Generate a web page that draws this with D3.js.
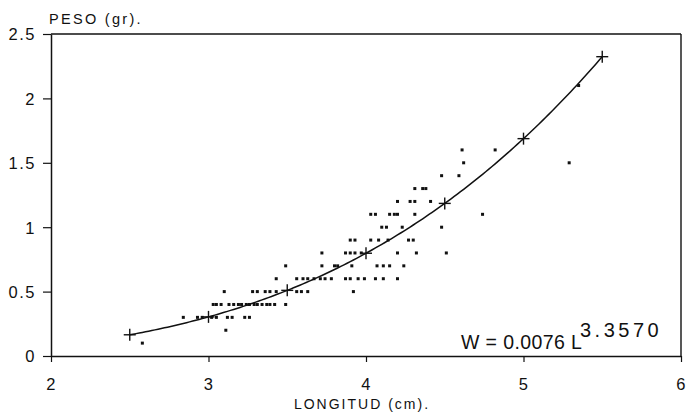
<!DOCTYPE html>
<html>
<head>
<meta charset="utf-8">
<script src="https://cdn.jsdelivr.net/npm/d3@7"></script>
<style>
  body { margin: 0; background: #fff; }
  svg { display: block; }
  text { font-family: "Liberation Sans", Arial, sans-serif; fill: #111; }
</style>
</head>
<body>
<svg id="chart" width="689" height="414"></svg>
<script>
// ---- data ----
const xTicks = [2, 3, 4, 5, 6];
const yTicks = [0, 0.5, 1, 1.5, 2, 2.5];
const xLabel = "LONGITUD (cm).";
const yLabel = "PESO (gr).";
const coefA = 0.0076;
const coefB = 3.357;
const curveMarkers = [2.5, 3, 3.5, 4, 4.5, 5, 5.5];

const sampleLength = [
  2.58,
  3.11,
  2.84, 2.93, 2.96, 3.02, 3.05, 3.12, 3.15, 3.23, 3.26,
  3.03, 3.05, 3.08, 3.13, 3.16, 3.19, 3.21, 3.24, 3.26, 3.29, 3.31, 3.34, 3.37, 3.39, 3.42, 3.49,
  3.10, 3.28, 3.31, 3.36, 3.39, 3.43, 3.56, 3.59, 3.63, 3.92,
  3.43, 3.56, 3.60, 3.63, 3.67, 3.71, 3.74, 3.78, 3.87, 3.90, 3.95, 3.99, 4.06, 4.11, 4.20,
  3.49, 3.72, 3.80, 3.82, 3.91, 4.07, 4.11, 4.15, 4.24,
  3.72, 3.87, 3.90, 3.93, 3.97, 4.20, 4.32, 4.51,
  3.90, 3.93, 4.03, 4.08, 4.14, 4.27, 4.30,
  4.10, 4.13, 4.23, 4.48,
  4.03, 4.06, 4.15, 4.18, 4.20, 4.31, 4.74,
  4.20, 4.28, 4.31, 4.41,
  4.31, 4.36, 4.38,
  4.48, 4.59,
  4.62, 5.29,
  4.61, 4.82,
  5.35
];
const sampleWeight = [
  0.1,
  0.2,
  0.3, 0.3, 0.3, 0.3, 0.3, 0.3, 0.3, 0.3, 0.3,
  0.4, 0.4, 0.4, 0.4, 0.4, 0.4, 0.4, 0.4, 0.4, 0.4, 0.4, 0.4, 0.4, 0.4, 0.4, 0.4,
  0.5, 0.5, 0.5, 0.5, 0.5, 0.5, 0.5, 0.5, 0.5, 0.5,
  0.6, 0.6, 0.6, 0.6, 0.6, 0.6, 0.6, 0.6, 0.6, 0.6, 0.6, 0.6, 0.6, 0.6, 0.6,
  0.7, 0.7, 0.7, 0.7, 0.7, 0.7, 0.7, 0.7, 0.7,
  0.8, 0.8, 0.8, 0.8, 0.8, 0.8, 0.8, 0.8,
  0.9, 0.9, 0.9, 0.9, 0.9, 0.9, 0.9,
  1.0, 1.0, 1.0, 1.0,
  1.1, 1.1, 1.1, 1.1, 1.1, 1.1, 1.1,
  1.2, 1.2, 1.2, 1.2,
  1.3, 1.3, 1.3,
  1.4, 1.4,
  1.5, 1.5,
  1.6, 1.6,
  2.1
];

// ---- drawing ----
const svg = d3.select("#chart");
const mLeft = 51, mRight = 681, mTop = 34, mBottom = 356;
const x = d3.scaleLinear().domain([2, 6]).range([mLeft, mRight]);
const y = d3.scaleLinear().domain([0, 2.5]).range([mBottom, mTop]);
const ink = "#111";

// frame (top and right)
svg.append("line").attr("x1", mLeft).attr("x2", mRight).attr("y1", mTop).attr("y2", mTop)
  .attr("stroke", ink).attr("stroke-width", 1.4);
svg.append("line").attr("x1", mRight).attr("x2", mRight).attr("y1", mTop).attr("y2", mBottom)
  .attr("stroke", ink).attr("stroke-width", 1.4);

// axes
const gx = svg.append("g").attr("transform", `translate(0,${mBottom})`)
  .call(d3.axisBottom(x).tickValues(xTicks).tickSize(6).tickSizeOuter(0).tickPadding(16).tickFormat(d3.format("d")));
const gy = svg.append("g").attr("transform", `translate(${mLeft},0)`)
  .call(d3.axisLeft(y).tickValues(yTicks).tickSize(8).tickSizeOuter(0).tickPadding(7).tickFormat(d => String(d)));
[gx, gy].forEach(g => {
  g.select(".domain").attr("stroke", ink).attr("stroke-width", 1.5);
  g.selectAll(".tick line").attr("stroke", ink).attr("stroke-width", 1.2);
  g.selectAll(".tick text").attr("font-size", 16.5).attr("letter-spacing", 1.5)
    .attr("font-family", "Liberation Sans, Arial, sans-serif").attr("fill", ink);
});
gy.selectAll(".tick text").attr("dy", "0.36em");

// axis titles
svg.append("text").attr("x", 49).attr("y", 24).attr("font-size", 14.5).attr("letter-spacing", 2.3)
  .text(yLabel);
svg.append("text").attr("x", 362).attr("y", 409).attr("text-anchor", "middle")
  .attr("font-size", 14).attr("letter-spacing", 2).text(xLabel);

// scatter points
const pts = sampleLength.map((l, i) => ({ l, w: sampleWeight[i] }));
svg.append("g").selectAll("rect").data(pts).join("rect")
  .attr("x", d => x(d.l) - 1.5).attr("y", d => y(d.w) - 1.5)
  .attr("width", 3).attr("height", 3).attr("fill", ink);

// fitted curve
const curvePts = d3.range(2.5, 5.5001, 0.02).map(l => ({ l, w: coefA * Math.pow(l, coefB) }));
svg.append("path").datum(curvePts)
  .attr("d", d3.line().x(d => x(d.l)).y(d => y(d.w)).curve(d3.curveMonotoneX))
  .attr("fill", "none").attr("stroke", ink).attr("stroke-width", 1.5);

// crosses on the curve
const cross = svg.append("g").selectAll("g").data(curveMarkers).join("g")
  .attr("transform", l => `translate(${x(l)},${y(coefA * Math.pow(l, coefB))})`);
cross.append("line").attr("x1", -6).attr("x2", 6).attr("stroke", ink).attr("stroke-width", 1.4);
cross.append("line").attr("y1", -6).attr("y2", 6).attr("stroke", ink).attr("stroke-width", 1.4);

// equation
svg.append("text").attr("x", 461).attr("y", 349).attr("font-size", 19.5).attr("letter-spacing", 0.4)
  .text(`W = ${coefA.toFixed(4)} L`);
svg.append("text").attr("x", 580).attr("y", 337).attr("font-size", 20).attr("letter-spacing", 3.5)
  .text(coefB.toFixed(4));
</script>
</body>
</html>
